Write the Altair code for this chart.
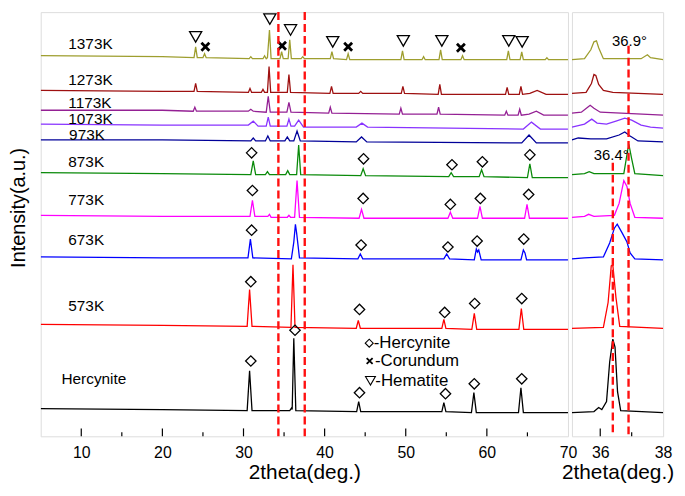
import altair as alt
import pandas as pd

FONT = "Liberation Sans, Arial, sans-serif"

# ---------------- data: XRD patterns, left panel (2theta, intensity a.u.) ----------------
HERC = [(5,28),(20,27),(30.45,26),(30.75,66),(31.05,26),(35.7,26),(35.95,29),(36.0,27),(36.2,99),(36.45,26),
        (43.95,25),(44.2,35),(44.45,25),(54.45,25),(54.7,34),(54.95,25),(58.1,24),(58.4,44),(58.7,24),
        (63.9,24),(64.2,49),(64.5,24),(70,24)]
K573 = [(5,113),(20,112),(30.45,111),(30.75,148),(31.05,111),(35.85,110),(36.1,173),(36.35,110),
        (43.9,109),(44.15,117),(44.4,109),(54.45,109),(54.7,118),(54.95,109),(58.15,108),(58.45,124),(58.75,108),
        (63.95,108),(64.25,129),(64.55,108),(70,108)]
K673 = [(5,181),(20,180),(30.55,180),(30.85,199),(31.15,180),(35.9,179),(36.2,196),(36.4,214),(36.55,205),(36.9,180),
        (44.1,179),(44.4,184),(44.7,179),(54.7,179),(55.05,184),(55.4,179),(58.45,178),(58.7,189),(58.85,186),(59.0,188),
        (59.3,178),(64.2,178),(64.5,188),(64.7,185),(64.9,178),(70,178)]
K773 = [(5,223),(20,222),(30.8,222),(31.1,238),(31.4,222),(33.0,222),(33.2,224),(33.4,221),(35.4,221),(35.6,223),(35.8,221),
        (36.3,221),(36.6,258),(36.9,221),(44.25,220),(44.55,229),(44.85,220),(55.2,220),(55.5,226),(55.8,220),
        (58.85,220),(59.15,232),(59.45,220),(64.65,220),(64.95,234),(65.25,220),(70,220)]
K873 = [(5,266),(20,265),(30.9,264),(31.2,278),(31.5,264),(32.7,264),(32.95,267),(33.2,264),(35.2,264),(35.45,268),(35.7,264),
        (36.55,264),(36.8,294),(37.05,264),(44.45,263),(44.75,270),(45.05,263),(55.3,262),(55.6,266),(55.9,262),
        (59.05,262),(59.35,269),(59.65,262),(65.0,261),(65.3,275),(65.6,261),(70,261)]
K973 = [(5,299),(20,299),(30.9,298),(31.2,301),(31.5,298),(32.7,298),(33.0,303),(33.3,298),(35.1,298),(35.4,302),(35.7,298),
        (36.2,298),(36.6,308),(37.0,298),(43.9,297),(44.55,302),(45.2,297),(64.3,296),(65.2,304),(66.1,296),(70,296)]
K1073 = [(5,315),(20,314),(30.6,314),(31.2,318),(31.8,313),(32.8,313),(33.05,322),(33.3,313),(35.35,313),(35.6,320),(35.85,313),
         (36.3,313),(36.8,319),(37.4,312),(43.9,312),(44.6,316),(45.3,312),(64.5,310),(65.5,317),(66.6,310),(70,310)]
K1173 = [(5,329),(20,329),(23.8,328),(24.0,332),(24.2,328),(30.6,328),(30.9,330),(31.2,328),(32.8,327),(33.05,343),(33.3,327),
         (35.35,327),(35.6,337),(35.85,327),(40.5,326),(40.7,332),(40.9,326),(49.2,325),(49.4,331),(49.6,325),
         (53.85,325),(54.05,332),(54.25,325),(62.2,324),(62.4,328),(62.6,324),(63.85,324),(64.05,330),(64.25,324),
         (65.2,325),(66.1,328),(67.0,324),(70,324)]
K1273 = [(5,349),(20,348),(23.9,348),(24.1,356),(24.3,348),(30.6,347),(30.8,351),(31.0,347),(32.2,347),(32.4,350),(32.6,347),
         (32.95,347),(33.15,373),(33.35,347),(35.4,347),(35.6,365),(35.8,347),(40.65,346),(40.85,353),(41.05,346),
         (44.2,346),(44.45,348),(44.7,346),(49.45,346),(49.65,353),(49.85,346),(54.0,345),(54.2,355),(54.4,345),
         (62.3,345),(62.5,352),(62.7,345),(64.0,345),(64.2,353),(64.4,345),(65.3,346),(66.2,349),(67.3,345),(70,345)]
K1373 = [(5,384),(20,383),(23.9,382),(24.1,393),(24.3,382),(25.0,382),(25.2,386),(25.4,382),(30.7,381),(30.9,383),(31.1,381),
         (32.4,381),(32.6,384),(32.8,381),(32.95,382),(33.2,410),(33.4,381),(34.5,381),(34.7,388),(34.9,381),
         (35.5,381),(35.7,400),(35.9,381),(37.1,381),(37.3,383),(37.5,381),(40.7,381),(40.9,388),(41.1,381),
         (42.7,380),(42.9,386),(43.1,380),(49.4,380),(49.6,389),(49.8,380),(52.0,380),(52.2,383),(52.4,380),
         (54.1,380),(54.3,390),(54.5,380),(56.8,380),(57.0,384),(57.2,380),(62.45,380),(62.65,389),(62.85,380),
         (64.1,380),(64.3,388),(64.5,380),(67.2,380),(67.4,382),(67.6,380),(70,380)]

# ---------------- right panel (zoom 35.1-38 deg) ----------------
R_HERC = [(35.1,24),(35.8,25),(35.95,29),(36.05,27),(36.2,35),(36.3,75),(36.4,98),(36.47,90),(36.55,45),(36.65,26),(38,24)]
R_573 = [(35.1,109),(36.1,110),(36.25,135),(36.35,172),(36.4,173),(36.5,140),(36.62,111),(38,109)]
R_673 = [(35.1,179),(35.5,180),(36.1,181),(36.3,195),(36.45,210),(36.54,214),(36.7,205),(36.85,196),(36.95,185),(37.1,179),(38,178)]
R_773 = [(35.1,221),(35.5,222),(35.63,224),(35.8,222),(36.45,223),(36.6,235),(36.75,258),(36.85,252),(36.95,235),(37.1,221),(38,220)]
R_873 = [(35.1,264),(35.5,265),(35.65,267),(35.8,265),(36.75,265),(36.88,290),(36.92,293),(37.0,280),(37.1,265),(38,263)]
R_973 = [(35.1,299),(35.3,301),(35.7,300),(36.2,300),(36.6,304),(36.78,307),(36.95,303),(37.2,298),(38,297)]
R_1073 = [(35.1,312),(35.5,315),(35.73,320),(35.9,316),(36.2,315),(36.5,318),(36.78,321),(37.0,319),(37.3,314),(37.6,312),(38,311)]
R_1173 = [(35.1,326),(35.4,327),(35.6,332),(35.68,334),(35.8,331),(36.0,327),(38,324)]
R_1273 = [(35.1,346),(35.55,347),(35.72,356),(35.8,365),(35.86,364),(35.95,355),(36.1,349),(36.4,347),(38,345)]
R_1373 = [(35.1,380),(35.5,381),(35.7,390),(35.8,398),(35.88,399),(35.95,392),(36.1,381),(37.3,381),(37.5,385),(37.6,382),(38,380)]

NAMES = ["Hercynite","573K","673K","773K","873K","973K","1073K","1173K","1273K","1373K"]
COLORS = ["#000000","#ff0000","#0000ff","#ff00ff","#0a8a0a","#000099","#8833ff","#942094","#9e1010","#9e9e2e"]
LEFT = [HERC,K573,K673,K773,K873,K973,K1073,K1173,K1273,K1373]
RIGHT = [R_HERC,R_573,R_673,R_773,R_873,R_973,R_1073,R_1173,R_1273,R_1373]

# series labels (x, y)
LABEL_X = [7.56,8.4,8.4,8.4,8.4,8.5,8.4,8.4,8.4,8.4]
LABEL_Y = [58,131,198,238,277,304,320,336,359,396]

# phase markers
DIAMONDS = [(30.9,76),(36.35,107),(44.3,44),(54.9,43),(58.45,53),(64.3,58),
            (30.9,156),(44.3,128),(54.8,125),(58.5,134),(64.3,139),
            (31.0,208),(44.5,193),(55.2,191),(58.8,197),(64.55,199),
            (31.1,248),(44.75,240),(55.5,234),(59.2,240),(65.15,244),
            (31.0,286),(44.8,280),(55.7,274),(59.45,277),(65.3,284)]
TRIANGLES = [(24.1,403),(33.25,421),(35.8,410),(41.0,398),(49.7,399),(54.45,399),(62.7,399),(64.35,398)]
CROSSES = [(25.3,393),(34.75,394),(42.9,393),(56.8,392)]

LEG_TEXT = ["-Hercynite","-Corundum","-Hematite"]
LEG_TEXT_X = [46.05,46.2,46.25]
LEG_Y = [94,76,56]
LEG_SYM_X = [45.5,45.55,45.65]

DASH_LEFT = [34.3,37.55]
DASH_RIGHT_X = [36.4,36.9]
DASH_RIGHT_TOP = [276,394]
RIGHT_TXT = ["36.4°","36.9°"]
RIGHT_TXT_X = [36.35,36.93]
RIGHT_TXT_Y = [284,399]

MAJOR_L = [10,20,30,40,50,60]
MINOR_L = [15,25,35,45,55,65]
MAJOR_R = [36]
MINOR_R = [37]

H = 428
WL, WR = 532, 92
YDOM = [0, 428]

def line_df(groups):
    rows = []
    for name, pts in zip(NAMES, groups):
        for i, (x, y) in enumerate(pts):
            rows.append({"series": name, "x": x, "y": y, "i": i})
    return pd.DataFrame(rows)

color = alt.Color("series:N", scale=alt.Scale(domain=NAMES, range=COLORS), legend=None)

def xenc(domain, values):
    return alt.X("x:Q", scale=alt.Scale(domain=domain, nice=False, zero=False),
                 axis=alt.Axis(values=values, title="2theta(deg.)", ticks=False, domain=False, grid=False,
                               labelFontSize=16, labelPadding=8, titleFontSize=21, titlePadding=2,
                               labelFont=FONT, titleFont=FONT, labelColor="black", titleColor="black",
                               titleFontWeight="normal", format="d", labelFlush=False))

yL = alt.Y("y:Q", scale=alt.Scale(domain=YDOM, nice=False, zero=False),
           axis=alt.Axis(title="Intensity(a.u.)", labels=False, ticks=False, domain=False, grid=False,
                         titleFontSize=20, titlePadding=12, minExtent=0, titleY=197,
                         titleFont=FONT, titleColor="black", titleFontWeight="normal"))
yR = alt.Y("y:Q", scale=alt.Scale(domain=YDOM, nice=False, zero=False), axis=None)

xL = xenc([5, 70], [10, 20, 30, 40, 50, 60, 70])
xR = xenc([35.1, 38], [36, 38])

def ticks(major, minor, x):
    a = alt.Chart(pd.DataFrame({"x": major})).mark_rule(color="black", strokeWidth=1.2).encode(
        x=x, y=alt.value(H), y2=alt.value(H - 8))
    b = alt.Chart(pd.DataFrame({"x": minor})).mark_rule(color="black", strokeWidth=1.2).encode(
        x=x, y=alt.value(H), y2=alt.value(H - 4))
    return a + b

CROSS_PATH = "M-1,-1L1,1M-1,1L1,-1"

def pts(data, shape, size, sw):
    return alt.Chart(pd.DataFrame(data, columns=["x", "y"])).mark_point(
        shape=shape, size=size, filled=False, color="black", strokeWidth=sw, opacity=1).encode(x=xL, y=yL)

# ---- left panel
lines_l = alt.Chart(line_df(LEFT)).mark_line(strokeWidth=1.3, clip=True).encode(
    x=xL, y=yL, color=color, order="i:Q")
dia = pts(DIAMONDS, "diamond", 110, 1.3)
tri = pts(TRIANGLES, "triangle-down", 150, 1.3)
crs = pts(CROSSES, CROSS_PATH, 64, 2.8)
labels = alt.Chart(pd.DataFrame({"x": LABEL_X, "y": LABEL_Y, "t": NAMES})).mark_text(
    align="left", baseline="middle", fontSize=15.5, font=FONT, color="black").encode(x=xL, y=yL, text="t:N")
leg_txt = alt.Chart(pd.DataFrame({"x": LEG_TEXT_X, "y": LEG_Y, "t": LEG_TEXT})).mark_text(
    align="left", baseline="middle", fontSize=17, font=FONT, color="black").encode(x=xL, y=yL, text="t:N")
leg_d = pts(list(zip(LEG_SYM_X[:1], LEG_Y[:1])), "diamond", 64, 1.1)
leg_c = pts(list(zip(LEG_SYM_X[1:2], LEG_Y[1:2])), CROSS_PATH, 36, 1.8)
leg_t = pts(list(zip(LEG_SYM_X[2:], LEG_Y[2:])), "triangle-down", 100, 1.1)
dash_l = alt.Chart(pd.DataFrame({"x": DASH_LEFT})).mark_rule(
    color="#ff1010", strokeWidth=2.4, strokeDash=[8, 4]).encode(x=xL)

left = alt.layer(lines_l, dia, tri, crs, labels, leg_txt, leg_d, leg_c, leg_t, dash_l,
                 ticks(MAJOR_L, MINOR_L, xL)).properties(width=WL, height=H)

# ---- right panel
lines_r = alt.Chart(line_df(RIGHT)).mark_line(strokeWidth=1.3, clip=True).encode(
    x=xR, y=yR, color=color, order="i:Q")
dash_r = alt.Chart(pd.DataFrame({"x": DASH_RIGHT_X, "y": DASH_RIGHT_TOP, "y0": [0, 0]})).mark_rule(
    color="#ff1010", strokeWidth=2.4, strokeDash=[8, 4]).encode(x=xR, y=yR, y2="y0:Q")
txt_r = alt.Chart(pd.DataFrame({"x": RIGHT_TXT_X, "y": RIGHT_TXT_Y, "t": RIGHT_TXT})).mark_text(
    align="center", baseline="middle", fontSize=15, font=FONT, color="black").encode(x=xR, y=yR, text="t:N")

right = alt.layer(lines_r, dash_r, txt_r, ticks(MAJOR_R, MINOR_R, xR)).properties(width=WR, height=H)

chart = alt.hconcat(left, right, spacing=4, bounds="flush").properties(
    padding={"left": 0, "top": 0, "right": 2, "bottom": 2}
).configure_view(stroke="#111111", strokeWidth=2).configure(background="white")

chart.save("out.html", embed_options={"renderer": "svg", "actions": False})
